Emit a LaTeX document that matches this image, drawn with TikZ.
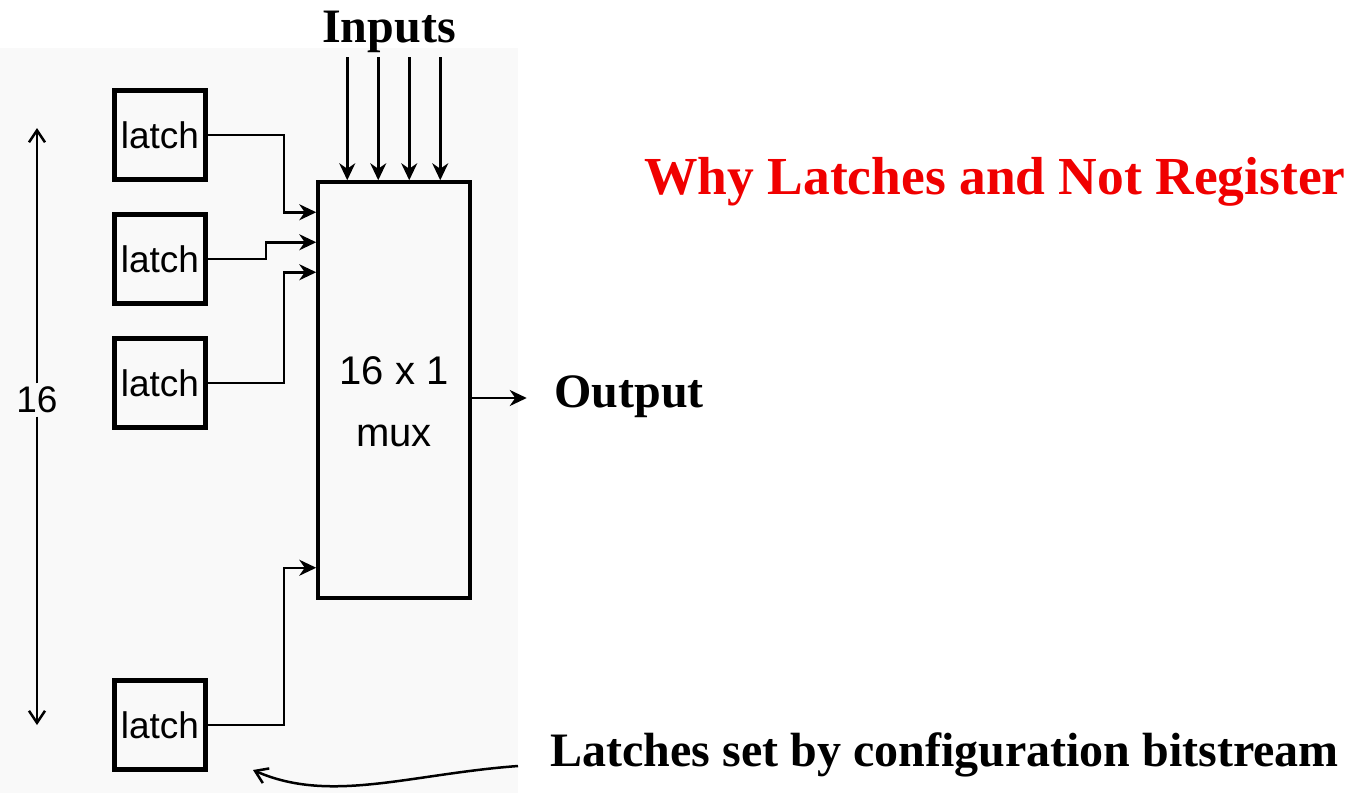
\documentclass[tikz,border=0pt]{standalone}
\usepackage{fontspec}
\setmainfont{Liberation Serif}
\setsansfont{Liberation Sans}
\usetikzlibrary{positioning, arrows.meta, calc}
\definecolor{titlered}{RGB}{240, 0, 0}
\definecolor{panelgray}{RGB}{249, 249, 249}
\tikzset{
  latchbox/.style={draw, line width=5pt, minimum width=91pt, minimum height=89pt, inner sep=0pt, font=\sffamily\fontsize{37}{44}\selectfont},
  muxbox/.style={draw, line width=3.5pt, minimum width=152pt, minimum height=416pt, inner sep=0pt},
  muxtext/.style={align=center, font=\sffamily\fontsize{40}{62}\selectfont},
  wire/.style={line width=2.5pt, -{Stealth[length=17pt, width=16pt]}},
  barb/.style={line width=2.5pt, -{Straight Barb[length=12pt, width=16pt]}},
  biglabel/.style={font=\bfseries\fontsize{48}{56}\selectfont},
}

\begin{document}
\begin{tikzpicture}[x=1pt, y=-1pt, node distance=30pt]
  \useasboundingbox (0,0) rectangle (1345,793);
  \fill[panelgray] (0,48) rectangle (518,793);

  % latches and mux
  \node[latchbox] (l1) at (160,135) {latch};
  \node[latchbox, below=of l1] (l2) {latch};
  \node[latchbox, below=of l2] (l3) {latch};
  \node[latchbox, below=248pt of l3] (l4) {latch};
  \node[muxbox] (mux) at (394,390) {};
  \node[muxtext] (muxname) at (394,402) {16 x 1\\mux};

  \draw[wire] (l1.east) -- ++(76,0) |- ([yshift=-32pt]mux.north west);
  \draw[wire] (l2.east) -- ++(58,0) |- ([yshift=-62pt]mux.north west);
  \draw[wire] (l3.east) -- ++(76,0) |- ([yshift=-92pt]mux.north west);
  \draw[wire] (l4.east) -- ++(76,0) |- ([yshift=32pt]mux.south west);

  % inputs
  \node[biglabel] (inputs) at (389,32) {Inputs};
  \foreach \x in {31,62,93,124}
    \draw[wire] ([xshift=\x pt]mux.north west) ++(0,-123) -- ++(0,123);

  % output
  \node[biglabel, anchor=west] (output) at (551,397) {Output};
  \draw[wire] (mux.east |- 0,398) -- ++(55,0);

  % count
  \node[font=\sffamily\fontsize{37}{44}\selectfont] (count) at (37,400) {16};
  \coordinate (ctop) at (37,128);
  \coordinate (cbot) at (37,725);
  \draw[barb] (count.north) -- (ctop);
  \draw[barb] (count.south) -- (cbot);

  % notes
  \node[font=\bfseries\fontsize{53.5}{60}\selectfont, text=titlered] (title) at (995,182) {Why Latches and Not Register};
  \node[biglabel, anchor=west] (cfg) at (547,755) {Latches set by configuration bitstream};
  \coordinate (cfgtail) at (518,766);
  \coordinate (cfghead) at (253,770);
  \draw[barb] (cfgtail) .. controls (410,774) and (330,804) .. (cfghead);
\end{tikzpicture}
\end{document}
